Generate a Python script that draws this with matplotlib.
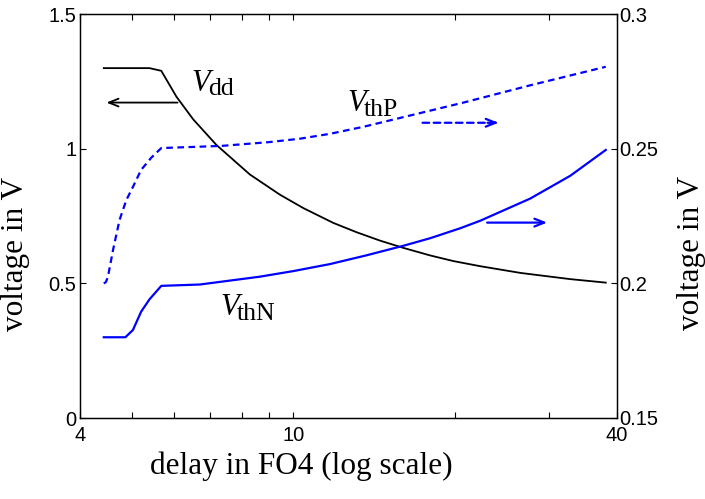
import numpy as np
import matplotlib
matplotlib.use("Agg")
import matplotlib.pyplot as plt

plt.rcParams['font.family'] = ['Liberation Sans', 'DejaVu Sans']

# supply voltage (left axis)
vdd_delay = [4.43, 5.39, 5.67, 6.05, 6.50, 7.18, 8.29, 9.43, 10.43, 11.86, 13.12,
             14.5, 16.03, 17.98, 19.87, 22.29, 26.5, 32.8, 38.2]
vdd = [1.30, 1.30, 1.29, 1.194, 1.110, 1.015, 0.905, 0.830, 0.780, 0.725, 0.690,
       0.659, 0.632, 0.604, 0.583, 0.564, 0.539, 0.516, 0.503]

# threshold voltages (right axis)
vthp_delay = [4.43, 4.47, 4.51, 4.61, 4.74, 4.88, 5.01, 5.20, 5.43, 5.67, 7.34,
              9.0, 10.3, 11.70, 13.5, 15.58, 20.74, 27.6, 38.2]
vthp = [0.200, 0.2005, 0.2025, 0.2125, 0.2236, 0.2310, 0.2355, 0.2422, 0.2467,
        0.2503, 0.2511, 0.2525, 0.2538, 0.2556, 0.2582, 0.2612, 0.2672, 0.2736,
        0.2805]

vthn_delay = [4.43, 4.86, 5.02, 5.20, 5.39, 5.67, 6.69, 8.65, 10.0, 11.70, 13.65,
              16.03, 17.98, 20.45, 22.29, 27.6, 32.8, 38.2]
vthn = [0.180, 0.180, 0.1827, 0.1895, 0.1941, 0.1991, 0.1996, 0.2025, 0.2046,
        0.2072, 0.2104, 0.2140, 0.2168, 0.2205, 0.2233, 0.2315, 0.2400, 0.2496]

x_ticks = [4, 10, 40]
left_ticks = [0, 0.5, 1, 1.5]
left_tick_labels = ['0', '0.5', '1', '1.5']
right_ticks = [0.15, 0.2, 0.25, 0.3]
right_tick_labels = ['0.15', '0.2', '0.25', '0.3']

W, H = 705, 499
fig = plt.figure(figsize=(W / 100, H / 100), dpi=100)
ax = fig.add_axes([80 / W, 1 - 418 / H, 536.5 / W, (418 - 14.3) / H])
ax2 = ax.twinx()

ax.plot(vdd_delay, vdd, color='k', lw=1.3)
ax2.plot(vthp_delay, vthp, color='b', lw=1.6, linestyle=(0, (3, 2)))
ax2.plot(vthn_delay, vthn, color='b', lw=1.6)

ax.set_xscale('log')
ax.set_xlim(4, 40)
ax.set_ylim(0, 1.5)
ax2.set_ylim(0.15, 0.3)

ax.set_xticks(x_ticks)
ax.set_xticklabels([str(t) for t in x_ticks])
ax.set_xticks([5, 6, 7, 8, 9, 20, 30], minor=True)
ax.xaxis.set_minor_formatter(matplotlib.ticker.NullFormatter())
ax.set_yticks(left_ticks)
ax.set_yticklabels(left_tick_labels)
ax2.set_yticks(right_ticks)
ax2.set_yticklabels(right_tick_labels)

ax.tick_params(axis='x', which='both', direction='in', top=True, length=4,
               width=0.8, labelsize=14.5, pad=6)
ax.tick_params(axis='y', direction='in', right=False, length=4, width=0.8,
               labelsize=14.5, pad=2.5)
ax2.tick_params(axis='y', direction='in', length=4, width=0.8, labelsize=14.5, pad=2)
for a in (ax, ax2):
    for s in a.spines.values():
        s.set_linewidth(0.9)

serif = ['Liberation Serif', 'DejaVu Serif']


def curve_label(a, x, y, sub):
    # italic V with an upright subscript, placed by its baseline
    a.text(x, y, 'V', fontsize=22, family=serif, style='italic',
           ha='left', va='baseline')
    a.annotate(sub, xy=(x, y), xytext=(12, -3.3), textcoords='offset points',
               fontsize=18.5, family=serif, ha='left', va='baseline')


curve_label(ax, 6.46, 1.216, 'dd')
curve_label(ax2, 12.6, 0.2639, 'thP')
curve_label(ax2, 7.30, 0.1883, 'thN')

# arrows pointing at the axis each curve belongs to
head = '->,head_length=0.7,head_width=0.28'
ax.annotate('', xy=(4.48, 1.172), xytext=(6.08, 1.172),
            arrowprops=dict(arrowstyle=head, color='k', lw=1.3,
                            shrinkA=0, shrinkB=0))
ax2.annotate('', xy=(24.1, 0.2597), xytext=(17.4, 0.2597),
             arrowprops=dict(arrowstyle='-', color='b', lw=1.6,
                             linestyle=(0, (3, 2)), shrinkA=0, shrinkB=0))
ax2.annotate('', xy=(24.1, 0.2597), xytext=(23.0, 0.2597),
             arrowprops=dict(arrowstyle=head, color='b', lw=1.6,
                             shrinkA=0, shrinkB=0))
ax2.annotate('', xy=(29.7, 0.2226), xytext=(22.96, 0.2226),
             arrowprops=dict(arrowstyle=head, color='b', lw=1.6,
                             shrinkA=0, shrinkB=0))

label_font = dict(family=serif, fontsize=22.5)
fig.text(301.7 / W, 1 - 466 / H, 'delay in FO4 (log scale)', ha='center',
         va='center', **label_font)
fig.text(16 / W, 1 - 254 / H, 'voltage in V', rotation=90, ha='center',
         va='center', **label_font)
fig.text(692 / W, 1 - 253 / H, 'voltage in V', rotation=90, ha='center',
         va='center', **label_font)

fig.savefig('out.png', dpi=100)
